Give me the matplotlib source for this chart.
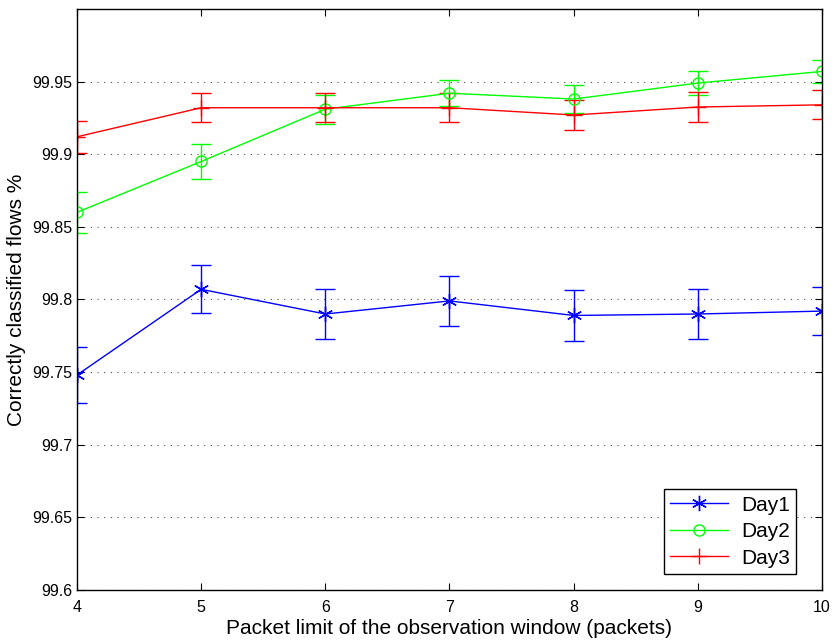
import matplotlib
matplotlib.use("Agg")
import matplotlib.pyplot as plt
from matplotlib.lines import Line2D

x = [4, 5, 6, 7, 8, 9, 10]
day1 = [99.748, 99.807, 99.790, 99.799, 99.789, 99.790, 99.792]
day1_err = [0.019, 0.0165, 0.0175, 0.017, 0.0175, 0.0175, 0.0167]
day2 = [99.860, 99.895, 99.931, 99.942, 99.938, 99.949, 99.957]
day2_err = [0.014, 0.012, 0.010, 0.009, 0.0095, 0.0085, 0.008]
day3 = [99.912, 99.932, 99.932, 99.932, 99.927, 99.9325, 99.934]
day3_err = [0.011, 0.010, 0.010, 0.010, 0.0105, 0.010, 0.010]
yticks = [99.6, 99.65, 99.7, 99.75, 99.8, 99.85, 99.9, 99.95]
ytick_labels = ["99.6", "99.65", "99.7", "99.75", "99.8", "99.85", "99.9", "99.95"]
labels = ['Day1', 'Day2', 'Day3']

plt.rcParams['font.family'] = ['Liberation Sans', 'DejaVu Sans']

fig = plt.figure(figsize=(8.34, 6.41), dpi=100)
ax = fig.add_axes([0.0923, 0.0796, 0.8933, 0.9064])

asterisk = (6, 2, 0)
styles = [
    dict(color=(0, 0, 1), marker=asterisk, markersize=11),
    dict(color=(0, 1, 0), marker='o', markersize=8, markerfacecolor='none'),
    dict(color=(1, 0, 0), marker='+', markersize=12),
]
handles = []
for ys, es, st, lab in zip([day1, day2, day3], [day1_err, day2_err, day3_err], styles, labels):
    ax.errorbar(x, ys, yerr=es, lw=1, capsize=7.5, elinewidth=1, capthick=1,
                markeredgewidth=1, **st)
    handles.append(Line2D([], [], lw=1, markeredgewidth=1, **st))

ax.set_xlim(4, 10)
ax.set_ylim(99.6, 100)
ax.set_xticks(x)
ax.set_yticks(yticks)
ax.set_yticklabels(ytick_labels)
ax.tick_params(direction='in', top=True, right=True, labelsize=11.5, length=5, width=0.8)
ax.tick_params(axis='x', pad=7)
ax.grid(True, axis='y', linestyle=(0, (1, 5)), color='0.3', lw=0.8)
for s in ax.spines.values():
    s.set_linewidth(1)
    s.set_color('black')

ax.set_xlabel('Packet limit of the observation window (packets)', fontsize=15, labelpad=3)
ax.set_ylabel('Correctly classified flows %', fontsize=15, labelpad=4)

leg = ax.legend(handles, labels, loc='lower right', bbox_to_anchor=(0.965, 0.0275),
                borderaxespad=0, fontsize=15, fancybox=False,
                edgecolor='black', framealpha=1, handlelength=2.8, handletextpad=0.6,
                labelspacing=0.36, borderpad=0.3)
leg.get_frame().set_linewidth(1)

fig.savefig('out.png', dpi=100)
